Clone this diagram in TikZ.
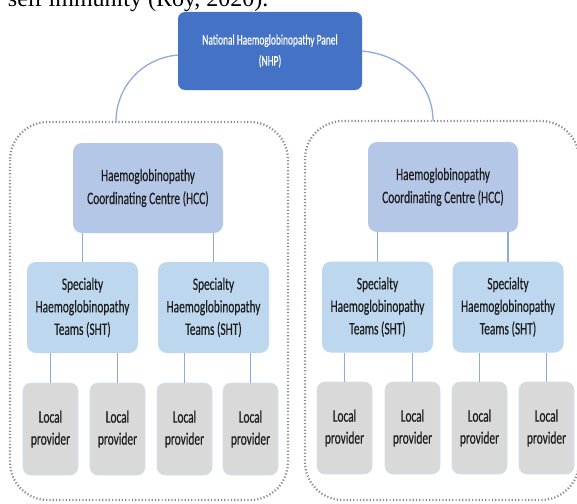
\documentclass[tikz,border=0pt]{standalone}
\usepackage{fontspec}
\setmainfont{Liberation Serif}
\newfontfamily\boxfont[FakeStretch=0.65,FakeBold=0.4]{Carlito}
\definecolor{nhpblue}{HTML}{4472C4}
\definecolor{hccblue}{HTML}{B4C7E7}
\definecolor{shtblue}{HTML}{BDD7EE}
\definecolor{locgray}{HTML}{D9D9D9}
\definecolor{linkblue}{HTML}{8FAADC}
\definecolor{textgray}{HTML}{1E1E1E}
\definecolor{dotgray}{HTML}{8E8E8E}
\begin{document}
\begin{tikzpicture}[x=1pt,y=-1pt,
  every node/.style={inner sep=0pt, outer sep=0pt},
  nhpbox/.style={rectangle, rounded corners=7pt, fill=nhpblue, text=white,
    minimum width=184pt, minimum height=78pt, align=center,
    font=\boxfont\fontsize{14.5}{21}\selectfont},
  hccbox/.style={rectangle, rounded corners=9pt, fill=hccblue, text=textgray,
    minimum width=150pt, minimum height=90pt, align=center,
    font=\boxfont\fontsize{17.5}{23}\selectfont},
  shtbox/.style={rectangle, rounded corners=9pt, fill=shtblue, text=textgray,
    minimum width=111pt, minimum height=91pt, align=center,
    font=\boxfont\fontsize{17.5}{22.5}\selectfont},
  locbox/.style={rectangle, rounded corners=8pt, fill=locgray, draw=hccblue!60, line width=0.6pt,
    text=textgray, minimum width=55pt, minimum height=92pt, align=center,
    font=\boxfont\fontsize{17.5}{22}\selectfont},
  region/.style={draw=dotgray, line width=2.3pt, dash pattern=on 1.2pt off 2.1pt, rounded corners=38pt},
  link/.style={draw=linkblue, line width=1.3pt},
  toptext/.style={anchor=base west, font=\fontsize{24}{28}\selectfont, text=black}
]
\clip (0,0) rectangle (577,503);
\fill[white] (0,0) rectangle (577,503);

% cut-off text line at top
\node[toptext] (top) at (8,7) {self immunity (Roy, 2020).};

% dotted regions
\draw[region] (10,122) rectangle (288,500);
\draw[region] (305,121) rectangle (579,500);
\coordinate (ltop) at (116,122);
\coordinate (rtop) at (433,121);

% top node
\node[nhpbox] (nhp) at (270,51) {National Haemoglobinopathy Panel\\(NHP)};

% HCC
\node[hccbox] (hccL) at (148,188) {Haemoglobinopathy\\Coordinating Centre (HCC)};
\node[hccbox] (hccR) at (443,187) {Haemoglobinopathy\\Coordinating Centre (HCC)};

% SHT
\node[shtbox] (shtL1) at (82.5,307.5) {Specialty\\Haemoglobinopathy\\Teams (SHT)};
\node[shtbox] (shtL2) at (213.5,307.5) {Specialty\\Haemoglobinopathy\\Teams (SHT)};
\node[shtbox] (shtR1) at (377.5,307) {Specialty\\Haemoglobinopathy\\Teams (SHT)};
\node[shtbox] (shtR2) at (508,307) {Specialty\\Haemoglobinopathy\\Teams (SHT)};

% Local providers
\node[locbox] (locL1) at (50.5,429) {Local\\provider};
\node[locbox] (locL2) at (117.5,429) {Local\\provider};
\node[locbox] (locL3) at (184.5,429) {Local\\provider};
\node[locbox] (locL4) at (250.5,429) {Local\\provider};
\node[locbox] (locR1) at (344.5,428) {Local\\provider};
\node[locbox] (locR2) at (412.5,428) {Local\\provider};
\node[locbox] (locR3) at (479.5,428) {Local\\provider};
\node[locbox] (locR4) at (546.5,428) {Local\\provider};

% connectors
\draw[link] ([yshift=-4pt]nhp.west) to[out=185,in=90] (ltop);
\draw[link] (nhp.east) to[out=-5,in=90] (rtop);

\draw[link] (shtL1.north) -- (shtL1.north |- hccL.south);
\draw[link] (shtL2.north) -- (shtL2.north |- hccL.south);
\draw[link] (shtR1.north) -- (shtR1.north |- hccR.south);
\draw[link] (shtR2.north) -- (shtR2.north |- hccR.south);

\draw[link] (locL1.north) -- (locL1.north |- shtL1.south);
\draw[link] (locL2.north) -- (locL2.north |- shtL1.south);
\draw[link] (locL3.north) -- (locL3.north |- shtL2.south);
\draw[link] (locL4.north) -- (locL4.north |- shtL2.south);
\draw[link] (locR1.north) -- (locR1.north |- shtR1.south);
\draw[link] (locR2.north) -- (locR2.north |- shtR1.south);
\draw[link] (locR3.north) -- (locR3.north |- shtR2.south);
\draw[link] (locR4.north) -- (locR4.north |- shtR2.south);
\end{tikzpicture}
\end{document}
